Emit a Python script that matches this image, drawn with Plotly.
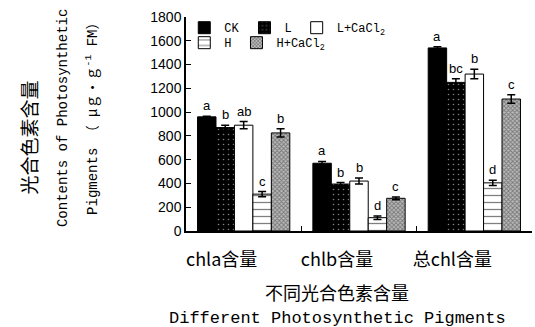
import plotly.graph_objects as go

categories = ["chla含量", "chlb含量", "总chl含量"]
series_names = ["CK", "L", "L+CaCl<sub>2</sub>", "H", "H+CaCl<sub>2</sub>"]
ck = [960, 570, 1540]
l_vals = [870, 395, 1250]
lca = [890, 420, 1320]
h_vals = [310, 112, 405]
hca = [825, 275, 1110]
ck_err = [5, 15, 10]
l_err = [20, 12, 30]
lca_err = [30, 25, 40]
h_err = [22, 15, 22]
hca_err = [35, 12, 35]
ck_sig = ["a", "a", "a"]
l_sig = ["b", "b", "bc"]
lca_sig = ["ab", "b", "b"]
h_sig = ["c", "d", "d"]
hca_sig = ["b", "c", "c"]

values = [ck, l_vals, lca, h_vals, hca]
errors = [ck_err, l_err, lca_err, h_err, hca_err]
sigs = [ck_sig, l_sig, lca_sig, h_sig, hca_sig]

styles = [
    dict(color="black", pattern=dict(shape="")),
    dict(color="black", pattern=dict(shape=".", fgcolor="white", size=5, solidity=0.08)),
    dict(color="white", pattern=dict(shape="")),
    dict(color="white", pattern=dict(shape="-", fgcolor="black", size=7, solidity=0.18)),
    dict(color="#bbbbbb", pattern=dict(shape="x", fgcolor="#333", size=3, solidity=0.5)),
]
legend_ids = ["legend", "legend", "legend", "legend2", "legend2"]

fig = go.Figure()
for name, vals, errs, st, lg in zip(series_names, values, errors, styles, legend_ids):
    fig.add_trace(go.Bar(
        name=name, x=categories, y=vals,
        error_y=dict(type="data", array=errs, color="black", thickness=1.5, width=4),
        marker=dict(color=st["color"], line=dict(color="black", width=1), pattern=st["pattern"]),
        legend=lg,
    ))

bargap = 0.2
w = (1 - bargap) / len(series_names)
for j, (vals, errs, sg) in enumerate(zip(values, errors, sigs)):
    for i in range(len(categories)):
        fig.add_annotation(
            x=i + (j - 2) * w, y=vals[i] + errs[i], xref="x", yref="y",
            text=sg[i], showarrow=False, yanchor="bottom", yshift=1,
            font=dict(family="Liberation Sans", size=13, color="black"),
        )

mono = "Liberation Mono, Noto Sans CJK SC"
cjk = "Noto Sans CJK SC"
# y titles
fig.add_annotation(x=-0.455, y=0.435, xref="paper", yref="paper", text="光合色素含量",
                   textangle=-90, showarrow=False, xanchor="center", yanchor="middle",
                   font=dict(family=cjk, size=19, color="black"))
fig.add_annotation(x=-0.357, y=0.53, xref="paper", yref="paper", text="Contents of Photosynthetic",
                   textangle=-90, showarrow=False, xanchor="center", yanchor="middle",
                   font=dict(family=mono, size=14, color="black"))
fig.add_annotation(x=-0.272, y=0.542, xref="paper", yref="paper",
                   text="Pigments （ μｇ・ｇ<sup>-1</sup> FM）",
                   textangle=-90, showarrow=False, xanchor="center", yanchor="middle",
                   font=dict(family=mono, size=14, color="black"))
# x titles
fig.add_annotation(x=0.436, y=-0.355, xref="paper", yref="paper", text="不同光合色素含量",
                   showarrow=False, font=dict(family=cjk, size=18, color="black"))
fig.add_annotation(x=0.438, y=-0.462, xref="paper", yref="paper", text="Different Photosynthetic Pigments",
                   showarrow=False, font=dict(family="Liberation Mono", size=17, color="black"))

fig.update_layout(
    width=535, height=327,
    margin=dict(l=186, r=3, t=17, b=96, autoexpand=False),
    paper_bgcolor="white", plot_bgcolor="white",
    barmode="group", bargap=bargap, bargroupgap=0,
    legend=dict(orientation="h", x=-0.005, y=0.95, xanchor="left", yanchor="middle",
                font=dict(family="Liberation Mono", size=12, color="black"),
                bgcolor="rgba(0,0,0,0)", itemclick=False, tracegroupgap=0),
    legend2=dict(orientation="h", x=-0.005, y=0.88, xanchor="left", yanchor="middle",
                 font=dict(family="Liberation Mono", size=12, color="black"),
                 bgcolor="rgba(0,0,0,0)"),
    xaxis=dict(showline=True, linecolor="black", linewidth=1.5, ticks="inside", ticklen=5,
               tickson="boundaries", tickcolor="black", ticklabelshift=-22, ticklabelstandoff=12,
               automargin=False,
               tickfont=dict(family=cjk, size=18, color="black"), showgrid=False),
    yaxis=dict(range=[0, 1800], tickvals=list(range(0, 1801, 200)), showline=True,
               linecolor="black", linewidth=1.5, ticks="inside", ticklen=5, tickcolor="black",
               showgrid=False, zeroline=False, automargin=False,
               tickfont=dict(family="Liberation Sans", size=14, color="black")),
)

fig.write_html("out.html", config={"displayModeBar": False},
               post_script="document.body.style.margin='0';document.body.style.padding='0';")
